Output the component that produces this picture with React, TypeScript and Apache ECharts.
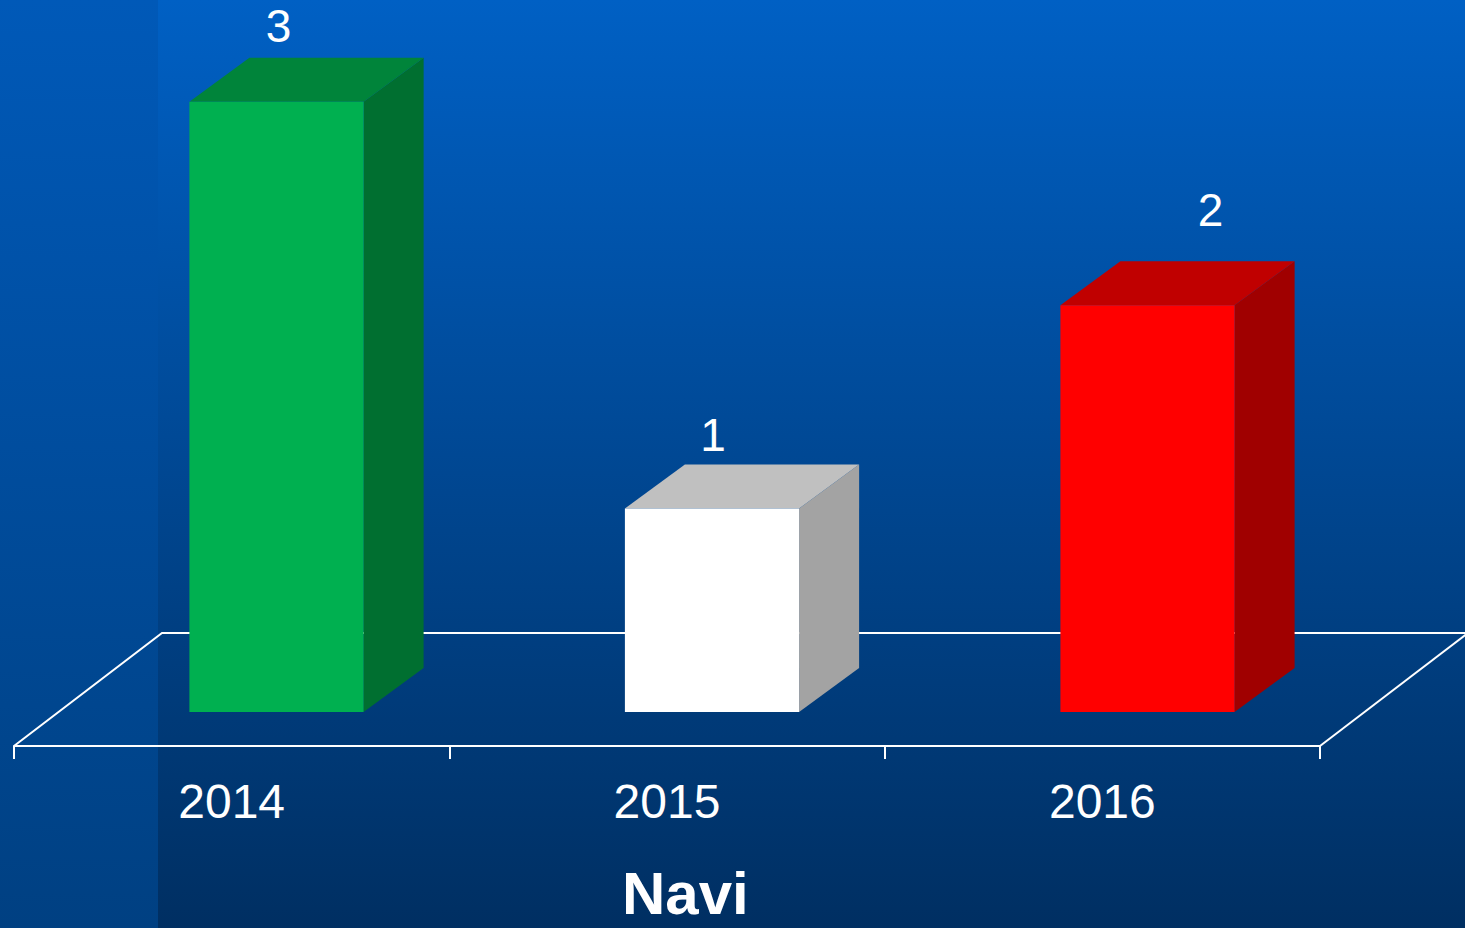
import React, { useEffect, useRef } from "react";
import * as echarts from "echarts";

const categories = ["2014", "2015", "2016"];
const values = [3, 1, 2];
const frontColors = ["#00B050", "#FFFFFF", "#FF0000"];
const topColors = ["#00843A", "#C0C0C0", "#C00000"];
const sideColors = ["#006F30", "#A3A3A3", "#A00000"];
const titleText = "Navi";

// value-label nudges (style, not data)
const labelNudge = [
  [2, -32],
  [1, -30],
  [63, -51],
];

const FONT = "'Liberation Sans', Arial, sans-serif";
const DEPTH_X = 60;
const DEPTH_Y = -44;

export default function App() {
  const ref = useRef<HTMLDivElement>(null);

  useEffect(() => {
    if (!ref.current) return;
    const chart = echarts.init(ref.current, undefined, { renderer: "svg" });

    const renderItem = (params: any, api: any) => {
      const i = api.value(0);
      const v = api.value(1);
      const base = api.coord([i, 0]);
      const top = api.coord([i, v]);
      const band = api.size([1, 0])[0];
      const w = band * 0.4;
      const x0 = base[0] - w / 2;
      const x1 = base[0] + w / 2;
      const y0 = base[1];
      const y1 = top[1];
      const nudge = labelNudge[i] || [0, -30];
      return {
        type: "group",
        children: [
          {
            type: "polygon",
            shape: {
              points: [
                [x1, y0],
                [x1 + DEPTH_X, y0 + DEPTH_Y],
                [x1 + DEPTH_X, y1 + DEPTH_Y],
                [x1, y1],
              ],
            },
            style: { fill: sideColors[i] },
          },
          {
            type: "polygon",
            shape: {
              points: [
                [x0, y1],
                [x1, y1],
                [x1 + DEPTH_X, y1 + DEPTH_Y],
                [x0 + DEPTH_X, y1 + DEPTH_Y],
              ],
            },
            style: { fill: topColors[i] },
          },
          {
            type: "rect",
            shape: { x: x0, y: y1, width: w, height: y0 - y1 },
            style: { fill: frontColors[i] },
          },
          {
            type: "text",
            x: base[0] + nudge[0],
            y: y1 + DEPTH_Y + nudge[1],
            style: {
              text: String(v),
              fill: "#FFFFFF",
              font: `46px ${FONT}`,
              textAlign: "center",
              textVerticalAlign: "middle",
            },
          },
        ],
      };
    };

    const option: any = {
      animation: false,
      backgroundColor: "#003C7C",
      title: {
        text: titleText,
        left: 622,
        top: 868,
        padding: 0,
        textStyle: {
          color: "#FFFFFF",
          fontSize: 60,
          lineHeight: 50,
          fontWeight: "bold",
          fontFamily: FONT,
        },
      },
      graphic: [
        {
          type: "rect",
          z: -100,
          shape: { x: 158, y: 0, width: 1307, height: 928 },
          style: {
            fill: new echarts.graphic.LinearGradient(0, 0, 0, 1, [
              { offset: 0, color: "#0060C4" },
              { offset: 1, color: "#002F62" },
            ]),
          },
        },
        {
          type: "rect",
          z: -100,
          shape: { x: 0, y: 0, width: 158, height: 928 },
          style: {
            fill: new echarts.graphic.LinearGradient(0, 0, 0, 1, [
              { offset: 0, color: "#0059B8" },
              { offset: 1, color: "#004082" },
            ]),
          },
        },
        {
          type: "polyline",
          z: -50,
          shape: {
            points: [
              [14, 746],
              [162, 633],
              [1470, 633],
            ],
          },
          style: { stroke: "#FFFFFF", lineWidth: 2, fill: null },
        },
        {
          type: "line",
          z: -50,
          shape: { x1: 1320, y1: 746, x2: 1468, y2: 633 },
          style: { stroke: "#FFFFFF", lineWidth: 2 },
        },
      ],
      grid: [
        { left: 58.75, width: 1306.5, top: 0, bottom: 216 },
        { left: 14, width: 1306, top: 700, bottom: 182 },
      ],
      xAxis: [
        {
          type: "category",
          gridIndex: 0,
          data: categories,
          show: false,
        },
        {
          type: "category",
          gridIndex: 1,
          data: categories,
          z: 5,
          axisLine: { show: true, lineStyle: { color: "#FFFFFF", width: 2 } },
          axisTick: {
            show: true,
            length: 13,
            lineStyle: { color: "#FFFFFF", width: 2 },
          },
          axisLabel: {
            color: "#FFFFFF",
            fontSize: 48,
            fontFamily: FONT,
            margin: 31,
          },
          splitLine: { show: false },
        },
      ],
      yAxis: [
        { type: "value", gridIndex: 0, min: 0, max: 3.5, show: false },
        { type: "value", gridIndex: 1, show: false },
      ],
      series: [
        {
          type: "custom",
          xAxisIndex: 0,
          yAxisIndex: 0,
          z: 10,
          renderItem,
          data: values.map((v, i) => [i, v]),
        },
      ],
    };

    chart.setOption(option);
    return () => chart.dispose();
  }, []);

  return (
    <div
      ref={ref}
      style={{ position: "absolute", left: 0, top: 0, width: 1465, height: 928 }}
    />
  );
}
